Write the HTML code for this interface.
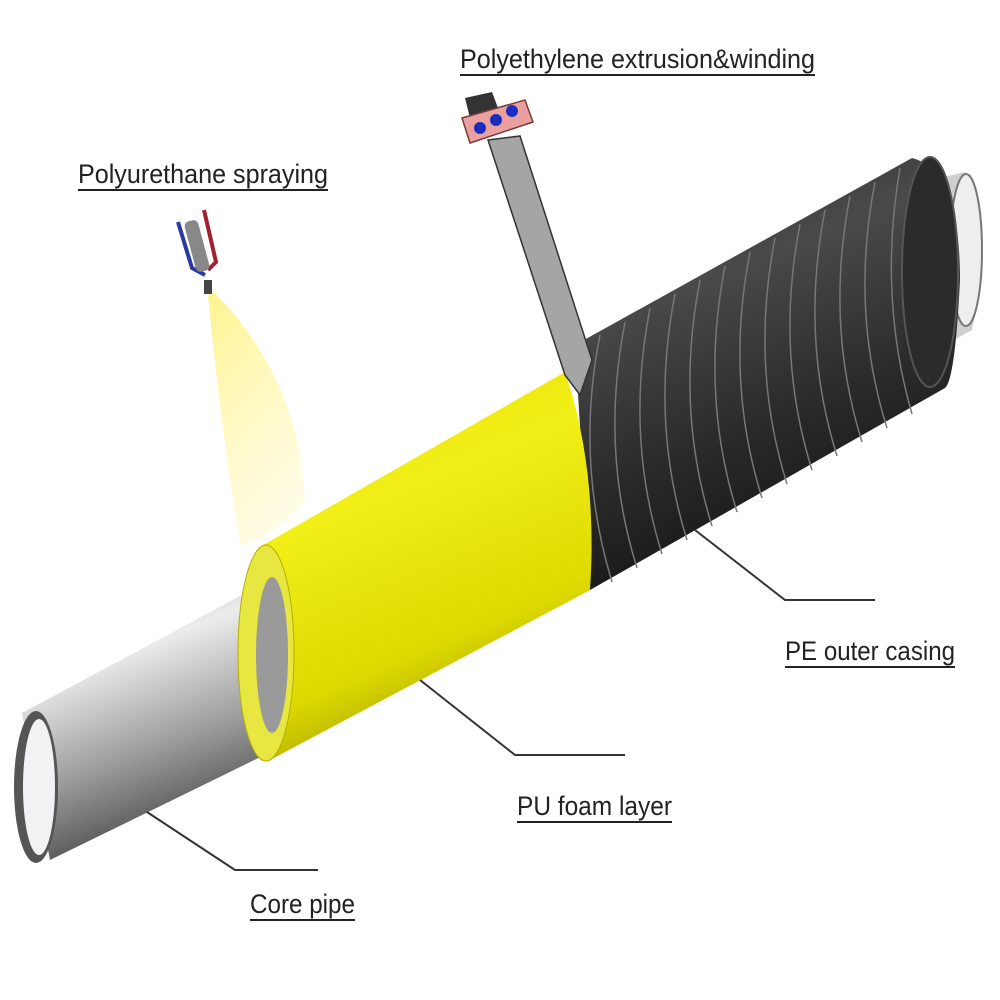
<!DOCTYPE html>
<html><head><style>html,body{margin:0;padding:0;background:#fff}svg{display:block}</style></head><body>
<svg width="1000" height="1000" viewBox="0 0 1000 1000" xmlns="http://www.w3.org/2000/svg">
<defs>
<linearGradient id="gp" x1="0" y1="0" x2="0.35" y2="1">
<stop offset="0" stop-color="#9a9a9a"/><stop offset="0.35" stop-color="#ececec"/><stop offset="0.7" stop-color="#9a9a9a"/><stop offset="1" stop-color="#4a4a4a"/></linearGradient>
<linearGradient id="gy" x1="0" y1="0" x2="0.35" y2="1">
<stop offset="0" stop-color="#e6e200"/><stop offset="0.4" stop-color="#f2ee18"/><stop offset="0.8" stop-color="#dcd800"/><stop offset="1" stop-color="#a8a400"/></linearGradient>
<linearGradient id="gb" x1="0" y1="0" x2="0.35" y2="1">
<stop offset="0" stop-color="#2a2a2a"/><stop offset="0.35" stop-color="#4a4a4a"/><stop offset="0.7" stop-color="#2a2a2a"/><stop offset="1" stop-color="#151515"/></linearGradient>
<linearGradient id="gs" x1="0" y1="0" x2="0.4" y2="1">
<stop offset="0" stop-color="#fff38a" stop-opacity="0.95"/><stop offset="1" stop-color="#fffbd8" stop-opacity="0.7"/></linearGradient>
</defs>
<path d="M208,295 L214,292 Q300,380 305,500 Q270,540 240,545 Q220,420 208,295Z" fill="url(#gs)"/>
<path d="M940,178 L965,172 Q990,250 972,330 L945,345Z" fill="#cfcfcf"/>
<ellipse cx="966" cy="250" rx="16" ry="76" fill="#eee" stroke="#777" stroke-width="2"/>
<path d="M575,345 L912,158 Q960,170 960,280 Q955,380 945,388 L590,590 Z" fill="url(#gb)"/>
<ellipse cx="930" cy="272" rx="28" ry="115" fill="#2b2b2b" stroke="#555" stroke-width="2"/>
<g stroke="#777" stroke-width="1.5" fill="none">
<path d="M600,335 Q575,460 612,582"/><path d="M625,322 Q600,450 637,568"/><path d="M650,308 Q625,436 662,554"/>
<path d="M675,294 Q650,422 687,540"/><path d="M700,280 Q675,408 712,526"/><path d="M725,266 Q700,394 737,512"/>
<path d="M750,252 Q725,380 762,498"/><path d="M775,238 Q750,366 787,484"/><path d="M800,224 Q775,352 812,470"/>
<path d="M825,210 Q800,338 837,456"/><path d="M850,196 Q825,324 862,442"/><path d="M875,182 Q850,310 887,428"/>
<path d="M900,168 Q878,296 912,414"/>
</g>
<path d="M22,713 L270,580 L285,745 L50,860 Z" fill="url(#gp)"/>
<path d="M258,548 L565,372 Q598,470 590,590 L270,760 Z" fill="url(#gy)"/>
<ellipse cx="266" cy="653" rx="28" ry="108" fill="#e8e640" stroke="#b5b000" stroke-width="1"/>
<ellipse cx="272" cy="655" rx="16" ry="78" fill="#9a9a9a"/>
<ellipse cx="36" cy="787" rx="22" ry="76" fill="#555"/>
<ellipse cx="39" cy="787" rx="16" ry="68" fill="#f2f2f4"/>
<path d="M488,140 L520,136 L592,360 L580,395 L565,375 Z" fill="#a5a5a5" stroke="#333" stroke-width="1.5"/>
<path d="M465,98 L492,92 L498,108 L470,118Z" fill="#333"/>
<path d="M462,118 L525,100 L533,122 L470,143 Z" fill="#eba0a0" stroke="#7a3a3a" stroke-width="1.5"/>
<circle cx="480" cy="128" r="6" fill="#1a2ec0"/><circle cx="496" cy="120" r="6" fill="#1a2ec0"/><circle cx="512" cy="111" r="6" fill="#1a2ec0"/>
<path d="M178,222 L192,268 L205,275" stroke="#2a3aa0" stroke-width="4" fill="none"/>
<path d="M204,210 L216,262 L208,270" stroke="#a02030" stroke-width="4" fill="none"/>
<rect x="190" y="220" width="14" height="52" rx="5" fill="#888" transform="rotate(-15 197 246)"/>
<rect x="204" y="280" width="8" height="14" fill="#444"/>
<g stroke="#333" stroke-width="2" fill="none">
<polyline points="147,812 235,870 318,870"/>
<polyline points="420,680 515,755 625,755"/>
<polyline points="695,530 785,600 875,600"/>
</g>
<g font-family="Liberation Sans, sans-serif" font-size="27" fill="#222">
<text x="460" y="68" textLength="355" lengthAdjust="spacingAndGlyphs">Polyethylene extrusion&amp;winding</text>
<text x="78" y="183" textLength="250" lengthAdjust="spacingAndGlyphs">Polyurethane spraying</text>
<text x="785" y="660" textLength="170" lengthAdjust="spacingAndGlyphs">PE outer casing</text>
<text x="517" y="815" textLength="155" lengthAdjust="spacingAndGlyphs">PU foam layer</text>
<text x="250" y="913" textLength="105" lengthAdjust="spacingAndGlyphs">Core pipe</text>
</g>
<g stroke="#222" stroke-width="2">
<line x1="460" y1="75" x2="815" y2="75"/><line x1="78" y1="190" x2="328" y2="190"/>
<line x1="785" y1="667" x2="955" y2="667"/><line x1="517" y1="822" x2="672" y2="822"/>
<line x1="250" y1="920" x2="355" y2="920"/>
</g>
</svg>
</body></html>
